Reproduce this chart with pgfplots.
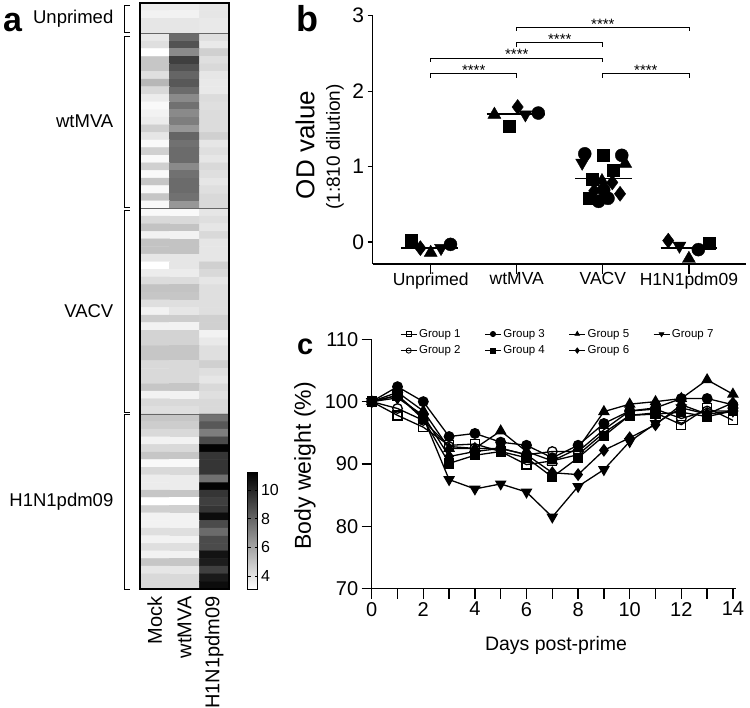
\documentclass[border=0pt]{standalone}
\usepackage{fontspec}
\setmainfont{Liberation Sans}
\usepackage{pgfplots}
\pgfplotsset{compat=1.18}
\newcommand{\fs}[1]{\fontsize{#1}{#1}\selectfont}
\begin{document}
\begin{tikzpicture}[x=1pt,y=1pt]
\useasboundingbox (0,0) rectangle (750,708);
\pgfplotsset{every axis/.append style={/pgf/number format/assume math mode=true}}
% ---------------- panel a ----------------
\begin{axis}[name=ha, at={(140pt,119pt)}, anchor=south west, scale only axis,
  width=89pt, height=586pt,
  xmin=-0.5, xmax=2.5, ymin=-0.5, ymax=76.5, y dir=reverse,
  xtick=\empty, ytick=\empty, axis on top, clip=false,
  axis line style={line width=1.3pt},
  colormap={wb}{gray(0cm)=(1); gray(1cm)=(0)},
  point meta min=3.1, point meta max=11.25,
  colorbar,
  colorbar style={at={(parent axis.south east)}, anchor=south west, xshift=10pt,
    scale only axis, width=10pt, height=117pt, y dir=normal,
    ytick={4,6,8,10},
    every tick label/.append style={font=\fs{16}},
    yticklabel style={font=\fs{16}, /pgf/number format/assume math mode=true},
    major tick length=3pt, axis line style={line width=0.8pt},
    tick style={black, line width=0.5pt}}]
\addplot[matrix plot*, mesh/cols=3, point meta=explicit]
  table[x index=0, y index=1, meta index=2, row sep=\\, header=false] {
0 0 3.7\\ 1 0 3.7\\ 2 0 3.9\\
0 1 3.5\\ 1 1 3.5\\ 2 1 3.9\\
0 2 3.9\\ 1 2 3.9\\ 2 2 3.8\\
0 3 3.9\\ 1 3 3.9\\ 2 3 3.8\\
0 4 3.8\\ 1 4 7.8\\ 2 4 4.1\\
0 5 4.1\\ 1 5 8.6\\ 2 5 3.8\\
0 6 3.1\\ 1 6 6.8\\ 2 6 4.6\\
0 7 4.9\\ 1 7 9.2\\ 2 7 4.1\\
0 8 4.9\\ 1 8 8.6\\ 2 8 4.3\\
0 9 4.1\\ 1 9 8.0\\ 2 9 3.9\\
0 10 5.4\\ 1 10 8.4\\ 2 10 3.8\\
0 11 4.3\\ 1 11 7.8\\ 2 11 3.8\\
0 12 3.7\\ 1 12 6.8\\ 2 12 4.2\\
0 13 3.3\\ 1 13 7.6\\ 2 13 4.1\\
0 14 3.5\\ 1 14 6.8\\ 2 14 4.2\\
0 15 3.7\\ 1 15 7.2\\ 2 15 4.2\\
0 16 4.6\\ 1 16 6.4\\ 2 16 4.2\\
0 17 3.9\\ 1 17 8.0\\ 2 17 4.6\\
0 18 3.3\\ 1 18 7.6\\ 2 18 3.9\\
0 19 4.6\\ 1 19 7.8\\ 2 19 4.1\\
0 20 3.3\\ 1 20 7.8\\ 2 20 3.9\\
0 21 4.6\\ 1 21 6.8\\ 2 21 4.3\\
0 22 3.3\\ 1 22 7.6\\ 2 22 4.1\\
0 23 4.9\\ 1 23 7.8\\ 2 23 3.9\\
0 24 3.3\\ 1 24 7.8\\ 2 24 4.1\\
0 25 4.9\\ 1 25 7.6\\ 2 25 4.3\\
0 26 3.3\\ 1 26 6.4\\ 2 26 4.3\\
0 27 3.3\\ 1 27 3.3\\ 2 27 3.9\\
0 28 4.3\\ 1 28 4.3\\ 2 28 4.1\\
0 29 5.0\\ 1 29 5.0\\ 2 29 3.9\\
0 30 3.5\\ 1 30 3.5\\ 2 30 4.3\\
0 31 5.0\\ 1 31 5.0\\ 2 31 3.9\\
0 32 5.0\\ 1 32 5.0\\ 2 32 3.9\\
0 33 3.9\\ 1 33 3.9\\ 2 33 3.9\\
0 34 3.1\\ 1 34 3.9\\ 2 34 4.6\\
0 35 3.7\\ 1 35 3.7\\ 2 35 4.3\\
0 36 4.2\\ 1 36 4.2\\ 2 36 3.9\\
0 37 5.0\\ 1 37 5.0\\ 2 37 4.1\\
0 38 4.9\\ 1 38 4.9\\ 2 38 4.1\\
0 39 4.1\\ 1 39 4.1\\ 2 39 4.1\\
0 40 3.5\\ 1 40 3.9\\ 2 40 4.1\\
0 41 4.7\\ 1 41 4.7\\ 2 41 4.6\\
0 42 3.5\\ 1 42 3.5\\ 2 42 4.6\\
0 43 4.5\\ 1 43 4.5\\ 2 43 3.5\\
0 44 4.5\\ 1 44 4.5\\ 2 44 3.8\\
0 45 4.9\\ 1 45 4.9\\ 2 45 4.1\\
0 46 4.9\\ 1 46 4.9\\ 2 46 4.1\\
0 47 4.3\\ 1 47 4.3\\ 2 47 4.6\\
0 48 4.3\\ 1 48 4.3\\ 2 48 4.1\\
0 49 4.3\\ 1 49 4.3\\ 2 49 3.9\\
0 50 4.9\\ 1 50 4.9\\ 2 50 4.3\\
0 51 3.5\\ 1 51 3.5\\ 2 51 4.1\\
0 52 4.3\\ 1 52 4.3\\ 2 52 4.3\\
0 53 4.1\\ 1 53 4.1\\ 2 53 4.3\\
0 54 4.9\\ 1 54 4.9\\ 2 54 7.6\\
0 55 4.7\\ 1 55 4.7\\ 2 55 8.4\\
0 56 4.3\\ 1 56 4.3\\ 2 56 7.2\\
0 57 3.5\\ 1 57 3.5\\ 2 57 8.8\\
0 58 4.3\\ 1 58 4.3\\ 2 58 11.1\\
0 59 4.9\\ 1 59 4.9\\ 2 59 9.5\\
0 60 3.3\\ 1 60 3.3\\ 2 60 9.5\\
0 61 4.3\\ 1 61 4.3\\ 2 61 9.5\\
0 62 3.7\\ 1 62 3.7\\ 2 62 7.6\\
0 63 3.7\\ 1 63 3.7\\ 2 63 11.1\\
0 64 4.9\\ 1 64 4.9\\ 2 64 9.5\\
0 65 3.1\\ 1 65 3.1\\ 2 65 9.2\\
0 66 4.6\\ 1 66 4.6\\ 2 66 9.5\\
0 67 3.5\\ 1 67 3.5\\ 2 67 10.8\\
0 68 3.5\\ 1 68 3.5\\ 2 68 8.8\\
0 69 4.1\\ 1 69 4.1\\ 2 69 7.8\\
0 70 3.5\\ 1 70 3.5\\ 2 70 8.8\\
0 71 4.1\\ 1 71 4.1\\ 2 71 8.8\\
0 72 3.5\\ 1 72 3.5\\ 2 72 10.6\\
0 73 4.9\\ 1 73 4.9\\ 2 73 10.3\\
0 74 3.9\\ 1 74 3.9\\ 2 74 9.2\\
0 75 4.3\\ 1 75 4.3\\ 2 75 10.4\\
0 76 4.3\\ 1 76 4.3\\ 2 76 10.8\\
};
\draw[black!60, line width=0.8pt] (axis cs:-0.5,3.5) -- (axis cs:2.5,3.5);
\draw[black!60, line width=0.8pt] (axis cs:-0.5,26.5) -- (axis cs:2.5,26.5);
\draw[black!60, line width=0.8pt] (axis cs:-0.5,53.5) -- (axis cs:2.5,53.5);
\draw[line width=0.8pt] (axis cs:-0.84,-0.24) -- (axis cs:-1.03,-0.24) -- (axis cs:-1.03,3.3) -- (axis cs:-0.84,3.3);
\draw[line width=0.8pt] (axis cs:-0.84,3.84) -- (axis cs:-1.03,3.84) -- (axis cs:-1.03,26.3) -- (axis cs:-0.84,26.3);
\draw[line width=0.8pt] (axis cs:-0.84,26.7) -- (axis cs:-1.03,26.7) -- (axis cs:-1.03,53.3) -- (axis cs:-0.84,53.3);
\draw[line width=0.8pt] (axis cs:-0.84,53.6) -- (axis cs:-1.03,53.6) -- (axis cs:-1.03,76.5) -- (axis cs:-0.84,76.5);
\node[anchor=east, font=\fs{18.5}] at (axis cs:-1.28,1.5) {Unprimed};
\node[anchor=east, font=\fs{18.5}] at (axis cs:-1.28,15) {wtMVA};
\node[anchor=east, font=\fs{18.5}] at (axis cs:-1.28,40) {VACV};
\node[anchor=east, font=\fs{18.5}] at (axis cs:-1.28,65) {H1N1pdm09};
\node[rotate=90, anchor=east, font=\fs{20}] at ([yshift=-4pt]axis cs:0,76.5) {Mock};
\node[rotate=90, anchor=east, font=\fs{20}] at ([yshift=-4pt]axis cs:1,76.5) {wtMVA};
\node[rotate=90, anchor=east, font=\fs{20}] at ([yshift=-4pt]axis cs:2,76.5) {H1N1pdm09};
\end{axis}
\node[anchor=base west, inner sep=0, font=\bfseries\fs{34}] at (3,676) {a};
% ---------------- panel b ----------------
\begin{axis}[at={(372.7pt,444pt)}, anchor=south west, scale only axis,
  width=373pt, height=248.3pt,
  xmin=-0.674, xmax=3.66, ymin=-0.29, ymax=3,
  axis x line*=bottom, axis y line*=left,
  axis line style={line width=1.3pt,-},
  xtick={0,1,2,3}, xticklabels={Unprimed,wtMVA,VACV,H1N1pdm09},
  ytick={0,1,2,3},
  tick align=outside, major tick length=5pt,
  xtick style={/pgfplots/major tick length=10pt},
  tick style={black, line width=1.3pt},
  xticklabel style={font=\fs{17.5}},
  yticklabel style={font=\fs{21}},
  clip=false]
\addplot[only marks, mark=square*, mark size=6pt, black] coordinates {
(-0.23,0.02) (0.91,1.54) (2.0,1.15) (2.12,0.95) (1.88,0.84) (1.84,0.58) (3.24,-0.01)};
\addplot[only marks, mark=*, mark size=6.5pt, black] coordinates {
(0.23,-0.03) (1.25,1.71) (1.79,1.17) (2.22,1.15) (2.01,0.69) (1.95,0.54) (2.06,0.58) (3.11,-0.10)};
\addplot[only marks, mark=triangle*, mark size=7.5pt, black] coordinates {
(0,-0.14) (0.74,1.69) (2.26,1.04) (1.99,0.81) (3.0,-0.22)};
\addplot[only marks, mark=triangle*, mark size=7.5pt, mark options={rotate=180}, black] coordinates {
(0.12,-0.08) (1.10,1.69) (1.76,1.05) (2.89,-0.05)};
\addplot[only marks, mark=diamond*, mark size=7.5pt, black] coordinates {
(-0.12,-0.08) (1.01,1.79) (2.11,0.79) (1.90,0.68) (2.20,0.64) (2.76,0.02)};
\addplot[black, line width=1.5pt] coordinates {(-0.34,-0.08) (0.32,-0.08)};
\addplot[black, line width=1.5pt] coordinates {(0.65,1.70) (1.33,1.70)};
\addplot[black, line width=1.5pt] coordinates {(1.68,0.84) (2.34,0.84)};
\addplot[black, line width=1.5pt] coordinates {(2.67,-0.08) (3.33,-0.08)};
\draw[line width=0.8pt] (axis cs:0,2.18) -- (axis cs:0,2.23) -- (axis cs:1,2.23) -- (axis cs:1,2.18);
\draw[line width=0.8pt] (axis cs:2,2.18) -- (axis cs:2,2.23) -- (axis cs:3,2.23) -- (axis cs:3,2.18);
\draw[line width=0.8pt] (axis cs:0,2.39) -- (axis cs:0,2.44) -- (axis cs:2,2.44) -- (axis cs:2,2.39);
\draw[line width=0.8pt] (axis cs:1,2.59) -- (axis cs:1,2.64) -- (axis cs:2,2.64) -- (axis cs:2,2.59);
\draw[line width=0.8pt] (axis cs:1,2.80) -- (axis cs:1,2.85) -- (axis cs:3,2.85) -- (axis cs:3,2.80);
\node[anchor=base, font=\fs{15}, inner sep=0] at ([yshift=-2pt]axis cs:0.5,2.23) {****};
\node[anchor=base, font=\fs{15}, inner sep=0] at ([yshift=-2pt]axis cs:2.5,2.23) {****};
\node[anchor=base, font=\fs{15}, inner sep=0] at ([yshift=-2pt]axis cs:1,2.44) {****};
\node[anchor=base, font=\fs{15}, inner sep=0] at ([yshift=-2pt]axis cs:1.5,2.64) {****};
\node[anchor=base, font=\fs{15}, inner sep=0] at ([yshift=-2pt]axis cs:2,2.85) {****};
\end{axis}
\node[anchor=base west, inner sep=0, font=\bfseries\fs{36}] at (296,676.3) {b};
\node[rotate=90, font=\fs{26}] at (305,563) {OD value};
\node[rotate=90, font=\fs{19}] at (335,561) {(1:810 dilution)};
% ---------------- panel c ----------------
\begin{axis}[at={(371.7pt,119.3pt)}, anchor=south west, scale only axis,
  width=364.3pt, height=249.4pt,
  xmin=0, xmax=14.12, ymin=70, ymax=110,
  axis x line*=bottom, axis y line*=left,
  axis line style={line width=1.3pt,-},
  xtick={0,2,...,14}, minor xtick={1,3,...,13},
  ytick={70,80,...,110},
  tick align=outside, major tick length=10pt, minor tick length=10pt,
  tick style={black, line width=1.3pt},
  xticklabel style={font=\fs{20}},
  yticklabel style={font=\fs{20}},
  clip=false,
  legend style={at={(0.078,1.049)}, anchor=north west, draw=none, fill=none,
    font=\fs{11.5}, row sep=3pt, inner sep=0pt,
    /tikz/every even column/.append style={column sep=22pt}},
  legend columns=4, legend cell align=left,
  legend image code/.code={\draw[mark repeat=2, mark phase=2, mark size=2.6pt, line width=0.8pt] plot coordinates {(0cm,0cm) (0.28cm,0cm) (0.56cm,0cm)};},
  every axis plot/.append style={line width=1.3pt, black}]
\addplot[mark=square, mark size=4.5pt, mark options={fill=white, solid}] coordinates {
(0,100) (1,97.8) (2,95.9) (3,93.0) (4,93.2) (5,92.0) (6,89.9) (7,90.5) (8,91.5) (9,95.0) (10,97.8) (11,98.2) (12,96.3) (13,99.0) (14,97.0)};
\addlegendentry{Group 1}
\addplot[mark=*, mark size=4.8pt] coordinates {
(0,100) (1,102.4) (2,100.0) (3,94.4) (4,94.9) (5,93.5) (6,93.0) (7,91.0) (8,93.0) (9,96.5) (10,98.5) (11,99.0) (12,100.5) (13,100.5) (14,99.5)};
\addlegendentry{Group 3}
\addplot[mark=triangle*, mark size=5.5pt] coordinates {
(0,100) (1,101.5) (2,98.5) (3,92.5) (4,92.5) (5,95.3) (6,92.0) (7,90.5) (8,92.5) (9,98.4) (10,99.6) (11,100.0) (12,100.5) (13,103.5) (14,101.2)};
\addlegendentry{Group 5}
\addplot[mark=triangle*, mark size=5.5pt, mark options={rotate=180}] coordinates {
(0,100) (1,101.0) (2,97.5) (3,87.5) (4,86.0) (5,86.8) (6,85.5) (7,81.5) (8,86.4) (9,89.1) (10,93.6) (11,96.5) (12,99.0) (13,98.0) (14,98.5)};
\addlegendentry{Group 7}
\addplot[mark=o, mark size=4.8pt, mark options={fill=white}] coordinates {
(0,100) (1,98.9) (2,97.0) (3,92.8) (4,92.5) (5,92.5) (6,91.5) (7,92.0) (8,92.0) (9,95.5) (10,98.5) (11,98.8) (12,97.3) (13,98.5) (14,98.5)};
\addlegendentry{Group 2}
\addplot[mark=square*, mark size=4.5pt] coordinates {
(0,100) (1,101.0) (2,97.2) (3,90.1) (4,91.4) (5,92.0) (6,91.0) (7,87.9) (8,91.0) (9,94.5) (10,97.8) (11,98.0) (12,98.3) (13,97.6) (14,98.5)};
\addlegendentry{Group 4}
\addplot[mark=diamond*, mark size=5.5pt] coordinates {
(0,100) (1,100.6) (2,97.8) (3,91.2) (4,92.0) (5,92.5) (6,91.5) (7,88.6) (8,88.3) (9,92.2) (10,94.2) (11,96.3) (12,99.5) (13,98.0) (14,99.8)};
\addlegendentry{Group 6}
\end{axis}
\node[anchor=base west, inner sep=0, font=\bfseries\fs{29}] at (297,353) {c};
\node[rotate=90, font=\fs{23}] at (305,242.3) {Body weight (\%)};
\node[font=\fs{19.5}] at (556,63) {Days post-prime};
\end{tikzpicture}
\end{document}
